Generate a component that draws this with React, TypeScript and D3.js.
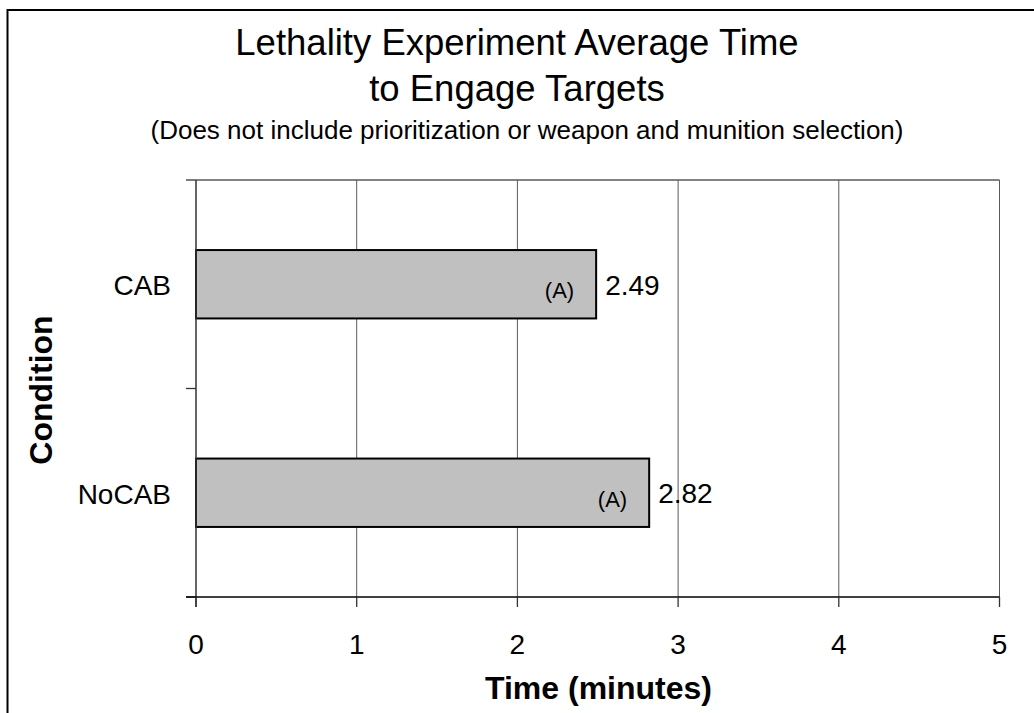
import React from "react";
import * as d3 from "d3";

const categories = ["CAB", "NoCAB"];
const values = [2.49, 2.82];
const groupLabels = ["(A)", "(A)"];
const valueLabels = ["2.49", "2.82"];
const xTicks = [0, 1, 2, 3, 4, 5];

const W = 1034;
const H = 713;
const FONT = "'Liberation Sans', Arial, sans-serif";

export default function App() {
  const left = 196, right = 999.5, top = 180, bottom = 597;
  const x = d3.scaleLinear().domain([0, 5]).range([left, right]);
  const y = d3.scaleBand().domain(categories).range([top, bottom]).paddingInner(0.672).paddingOuter(0.336);
  const band = (bottom - top) / categories.length;
  const yBoundaries = d3.range(categories.length + 1).map((i) => top + i * band);

  return (
    <svg width={W} height={H} style={{ position: "absolute", left: 0, top: 0, background: "#fff" }} fontFamily={FONT}>
      <rect x={7.5} y={10} width={1040} height={720} fill="none" stroke="#000" strokeWidth={2} />
      {/* titles */}
      <text x={517} y={55} textAnchor="middle" fontSize={36.5} fill="#000">Lethality Experiment Average Time</text>
      <text x={517} y={101} textAnchor="middle" fontSize={36.5} fill="#000">to Engage Targets</text>
      <text x={527} y={139} textAnchor="middle" fontSize={26} fill="#000">(Does not include prioritization or weapon and munition selection)</text>

      {/* gridlines */}
      {xTicks.slice(1).map((t) => (
        <line key={"g" + t} x1={x(t)} x2={x(t)} y1={top} y2={bottom} stroke="#5a5a5a" strokeWidth={1} />
      ))}
      <line x1={left} x2={right} y1={top} y2={top} stroke="#5a5a5a" strokeWidth={1.3} />

      {/* bars */}
      {categories.map((c, i) => (
        <rect key={c} x={x(0)} y={y(c)!} width={x(values[i]) - x(0)} height={y.bandwidth()} fill="#c0c0c0" stroke="#000" strokeWidth={2} />
      ))}
      {categories.map((c, i) => {
        const cy = y(c)! + y.bandwidth() / 2;
        return (
          <g key={"l" + c}>
            <text x={x(values[i]) - 22} y={cy + 14} textAnchor="end" fontSize={22} fill="#000">{groupLabels[i]}</text>
            <text x={x(values[i]) + 9} y={cy + 10.5} fontSize={28} fill="#000">{valueLabels[i]}</text>
          </g>
        );
      })}

      {/* y axis */}
      <line x1={left} x2={left} y1={top} y2={bottom + 10} stroke="#333" strokeWidth={1.5} />
      {yBoundaries.map((b, i) => (
        <line key={"yt" + i} x1={left - 10} x2={left} y1={b} y2={b} stroke="#333" strokeWidth={1.3} />
      ))}
      {categories.map((c) => (
        <text key={"cl" + c} x={171} y={y(c)! + y.bandwidth() / 2 + 11} textAnchor="end" fontSize={28} fill="#000">{c}</text>
      ))}

      {/* x axis */}
      <line x1={left - 10} x2={right} y1={bottom} y2={bottom} stroke="#000" strokeWidth={1.5} />
      {xTicks.map((t) => (
        <g key={"xt" + t}>
          <line x1={x(t)} x2={x(t)} y1={bottom} y2={bottom + 10} stroke="#333" strokeWidth={1.3} />
          <text x={x(t)} y={654} textAnchor="middle" fontSize={28} fill="#000">{t}</text>
        </g>
      ))}

      <text x={598.5} y={699} textAnchor="middle" fontSize={32} fontWeight="bold" fill="#000">Time (minutes)</text>
      <text transform={`translate(52,${390}) rotate(-90)`} textAnchor="middle" fontSize={32} fontWeight="bold" fill="#000">Condition</text>
    </svg>
  );
}
